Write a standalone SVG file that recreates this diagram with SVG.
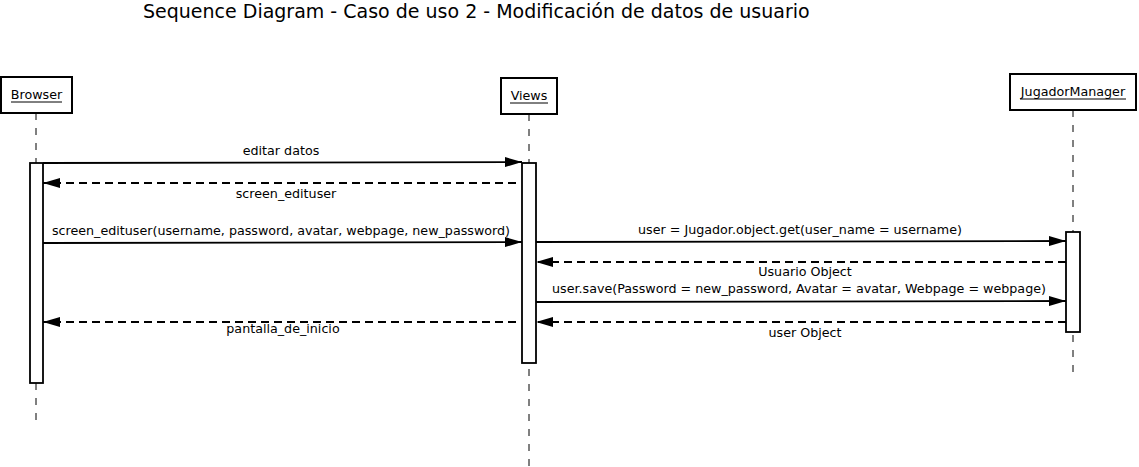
<svg xmlns="http://www.w3.org/2000/svg" width="1139" height="467" viewBox="0 0 1139 467">
<defs>
<marker id="ah" viewBox="0 0 10 10" refX="10" refY="5" markerWidth="17" markerHeight="10" markerUnits="userSpaceOnUse" orient="auto" preserveAspectRatio="none">
<path d="M0,0 L10,5 L0,10 Z" fill="#000"/>
</marker>
<style>
text{font-family:"DejaVu Sans",sans-serif;fill:#000}
.t{font-size:19px}
.lbl{font-size:12.7px;text-anchor:middle}
.box{fill:#fff;stroke:#000;stroke-width:2}
.life{stroke:#000;stroke-width:1;stroke-dasharray:7,8;fill:none}
.act{fill:#fff;stroke:#000;stroke-width:1.8}
.msg{stroke:#000;stroke-width:1.8;fill:none;marker-end:url(#ah)}
.ret{stroke:#000;stroke-width:1.8;fill:none;stroke-dasharray:8,5;marker-end:url(#ah)}
.ul{stroke:#000;stroke-width:1}
</style>
</defs>
<rect width="1139" height="467" fill="#fff"/>
<text class="t" x="143" y="18">Sequence Diagram - Caso de uso 2 - Modificación de datos de usuario</text>
<g id="browser">
<line class="life" x1="36" y1="113" x2="36" y2="422"/>
<rect class="box" x="1" y="77" width="71" height="36"/>
<text class="lbl" x="36.5" y="99">Browser</text>
<line class="ul" x1="11" y1="102" x2="62" y2="102"/>
<rect class="act" x="30" y="163" width="13" height="220"/>
</g>
<g id="views">
<line class="life" x1="529" y1="114" x2="529" y2="466"/>
<rect class="box" x="501" y="78" width="56" height="36"/>
<text class="lbl" x="529" y="100">Views</text>
<line class="ul" x1="510" y1="103" x2="548" y2="103"/>
<rect class="act" x="522" y="163" width="14" height="200"/>
</g>
<g id="jugadormanager">
<line class="life" x1="1073" y1="110" x2="1073" y2="372"/>
<rect class="box" x="1010" y="74" width="126" height="36"/>
<text class="lbl" x="1073" y="96">JugadorManager</text>
<line class="ul" x1="1020" y1="99" x2="1126" y2="99"/>
<rect class="act" x="1066" y="232" width="14" height="100"/>
</g>
<g id="connectors">
<line class="msg" x1="43" y1="163" x2="522" y2="162"/>
<text class="lbl" x="281" y="155">editar datos</text>
<line class="ret" x1="516" y1="183" x2="43" y2="183"/>
<text class="lbl" x="286" y="198">screen_edituser</text>
<line class="msg" x1="43" y1="243" x2="522" y2="242"/>
<text class="lbl" x="281" y="235">screen_edituser(username, password, avatar, webpage, new_password)</text>
<line class="msg" x1="536" y1="242" x2="1066" y2="241"/>
<text class="lbl" x="800" y="234">user = Jugador.object.get(user_name = username)</text>
<line class="ret" x1="1066" y1="262" x2="536" y2="262"/>
<text class="lbl" x="805" y="276">Usuario Object</text>
<line class="msg" x1="536" y1="302" x2="1066" y2="301"/>
<text class="lbl" x="799" y="293">user.save(Password = new_password, Avatar = avatar, Webpage = webpage)</text>
<line class="ret" x1="1066" y1="322" x2="536" y2="322"/>
<text class="lbl" x="805" y="337">user Object</text>
<line class="ret" x1="516" y1="322" x2="43" y2="322"/>
<text class="lbl" x="283" y="333">pantalla_de_inicio</text>
</g>
</svg>
